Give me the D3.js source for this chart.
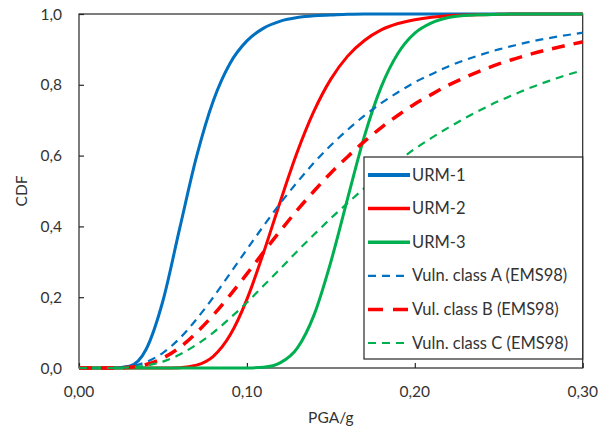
<!DOCTYPE html>
<html>
<head>
<meta charset="utf-8">
<script src="https://cdn.jsdelivr.net/npm/d3@7"></script>
<style>
  body { margin: 0; background: #ffffff; }
</style>
</head>
<body>
<div id="viz-container"></div>
<script>
let w = 599;
let h = 431;
let margin = {left: 79, right: 16, top: 14, bottom: 63};

// PGA/g grid (x values shared by all curves)
let pga = [0.00, 0.01, 0.02, 0.03, 0.04, 0.05, 0.06, 0.07, 0.08, 0.09, 0.10,
           0.11, 0.12, 0.13, 0.14, 0.15, 0.16, 0.17, 0.18, 0.19, 0.20,
           0.21, 0.22, 0.23, 0.24, 0.25, 0.26, 0.27, 0.28, 0.29, 0.30];

// CDF values
let urm1 = [0, 0, 0, 0.005, 0.053, 0.190, 0.395, 0.597, 0.755, 0.861, 0.924,
            0.960, 0.980, 0.990, 0.995, 0.997, 0.999, 1, 1, 1, 1,
            1, 1, 1, 1, 1, 1, 1, 1, 1, 1];
let urm2 = [0, 0, 0, 0, 0, 0, 0.001, 0.008, 0.033, 0.093, 0.194,
            0.327, 0.472, 0.610, 0.726, 0.816, 0.881, 0.925, 0.955, 0.973, 0.984,
            0.991, 0.995, 0.997, 0.998, 0.999, 1, 1, 1, 1, 1];
let urm3 = [0, 0, 0, 0, 0, 0, 0, 0, 0, 0, 0,
            0.002, 0.015, 0.056, 0.150, 0.300, 0.479, 0.655, 0.794, 0.889, 0.946,
            0.975, 0.990, 0.996, 0.998, 0.999, 1, 1, 1, 1, 1];
let classA = [0, 0, 0, 0.004, 0.017, 0.043, 0.084, 0.138, 0.200, 0.267, 0.335,
              0.402, 0.466, 0.525, 0.580, 0.629, 0.673, 0.713, 0.748, 0.779, 0.807,
              0.830, 0.852, 0.870, 0.886, 0.900, 0.912, 0.923, 0.932, 0.940, 0.947];
let classB = [0, 0, 0, 0.002, 0.010, 0.028, 0.058, 0.100, 0.150, 0.206, 0.266,
              0.328, 0.388, 0.446, 0.500, 0.551, 0.597, 0.640, 0.679, 0.714, 0.746,
              0.773, 0.799, 0.821, 0.841, 0.859, 0.874, 0.888, 0.900, 0.911, 0.921];
let classC = [0, 0, 0, 0.002, 0.007, 0.018, 0.038, 0.066, 0.100, 0.141, 0.185,
              0.233, 0.281, 0.330, 0.377, 0.423, 0.466, 0.508, 0.547, 0.584, 0.619,
              0.650, 0.679, 0.706, 0.731, 0.754, 0.774, 0.794, 0.811, 0.827, 0.841];

let xTicks = [0, 0.10, 0.20, 0.30];
let yTicks = [0, 0.2, 0.4, 0.6, 0.8, 1.0];

let series = [
  {name: "URM-1", values: urm1, color: "#0070C0", width: 3, dash: null, legendWidth: 4},
  {name: "URM-2", values: urm2, color: "#FF0000", width: 3, dash: null, legendWidth: 3.5},
  {name: "URM-3", values: urm3, color: "#00B050", width: 3, dash: null, legendWidth: 3.5},
  {name: "Vuln. class A (EMS98)", values: classA, color: "#0070C0", width: 2.2, dash: "8,6", legendWidth: 2.2},
  {name: "Vul. class B (EMS98)", values: classB, color: "#FF0000", width: 3.5, dash: "13,9", legendWidth: 3.5},
  {name: "Vuln. class C (EMS98)", values: classC, color: "#00B050", width: 2.2, dash: "8,6", legendWidth: 2.2}
];

let fmt = d => d.toFixed(2).replace(".", ",");
let fmtY = d => d.toFixed(1).replace(".", ",");
let textColor = "#333333";

let viz = d3.select("#viz-container")
              .append("svg")
              .attr("width", w)
              .attr("height", h)
              .style("background-color", "#ffffff")
              .style("font-family", "Lato, 'Open Sans', sans-serif");

let xScale = d3.scaleLinear().domain([0, 0.30]).range([margin.left, w - margin.right - 0.3]);
let yScale = d3.scaleLinear().domain([0, 1]).range([h - margin.bottom, margin.top]);

// plot frame
viz.append("rect")
    .attr("x", xScale(0))
    .attr("y", yScale(1))
    .attr("width", xScale(0.30) - xScale(0))
    .attr("height", yScale(0) - yScale(1))
    .attr("fill", "none")
    .attr("stroke", "#262626")
    .attr("stroke-width", 1.2);

// y axis (ticks inside)
let yAxis = viz.append("g")
    .attr("transform", `translate(${xScale(0)},0)`)
    .call(d3.axisRight(yScale).tickValues(yTicks).tickSize(5).tickFormat(""));
yAxis.select(".domain").remove();
yAxis.selectAll("line").attr("stroke", "#262626").attr("stroke-width", 1.2);

viz.selectAll(".ylab").data(yTicks).enter().append("text")
    .attr("class", "ylab")
    .attr("x", 62)
    .attr("y", d => yScale(d) + 5.5)
    .attr("text-anchor", "end")
    .attr("font-size", 15.5)
    .attr("fill", textColor)
    .text(fmtY);

// x axis (ticks inside)
let xAxis = viz.append("g")
    .attr("transform", `translate(0,${yScale(0)})`)
    .call(d3.axisTop(xScale).tickValues(xTicks).tickSize(5).tickFormat(""));
xAxis.select(".domain").remove();
xAxis.selectAll("line").attr("stroke", "#262626").attr("stroke-width", 1.2);

viz.selectAll(".xlab").data(xTicks).enter().append("text")
    .attr("class", "xlab")
    .attr("x", d => xScale(d))
    .attr("y", 397)
    .attr("text-anchor", "middle")
    .attr("font-size", 15.5)
    .attr("fill", textColor)
    .text(fmt);

viz.append("text")
    .text("PGA/g")
    .attr("x", (xScale(0) + xScale(0.30)) / 2)
    .attr("y", 423)
    .attr("text-anchor", "middle")
    .attr("font-size", 15.5)
    .attr("fill", textColor);

viz.append("text")
    .text("CDF")
    .attr("transform", `translate(27,${(yScale(0) + yScale(1)) / 2}) rotate(-90)`)
    .attr("text-anchor", "middle")
    .attr("font-size", 15.5)
    .attr("fill", textColor);

// curves
let lineMaker = d3.line()
    .x((d, i) => xScale(pga[i]))
    .y(d => yScale(d))
    .curve(d3.curveMonotoneX);

viz.selectAll(".curve").data(series).enter().append("path")
    .attr("class", "curve")
    .attr("d", d => lineMaker(d.values))
    .attr("fill", "none")
    .attr("stroke", d => d.color)
    .attr("stroke-width", d => d.width)
    .attr("stroke-dasharray", d => d.dash)
    .attr("stroke-linejoin", "round");

// legend
let legend = viz.append("g");
legend.append("rect")
    .attr("x", 364)
    .attr("y", 157)
    .attr("width", xScale(0.30) - 364)
    .attr("height", 202)
    .attr("fill", "#ffffff")
    .attr("stroke", "#262626")
    .attr("stroke-width", 1.2);

let rows = legend.selectAll(".row").data(series).enter().append("g")
    .attr("class", "row")
    .attr("transform", (d, i) => `translate(0,${175 + i * 33.6})`);
rows.append("line")
    .attr("x1", 368)
    .attr("x2", 410)
    .attr("stroke", d => d.color)
    .attr("stroke-width", d => d.legendWidth)
    .attr("stroke-dasharray", (d, i) => i == 4 ? "15,10" : d.dash);
rows.append("text")
    .text(d => d.name)
    .attr("x", 412)
    .attr("y", 5.5)
    .attr("font-size", 16.5)
    .attr("fill", textColor);
</script>
</body>
</html>
